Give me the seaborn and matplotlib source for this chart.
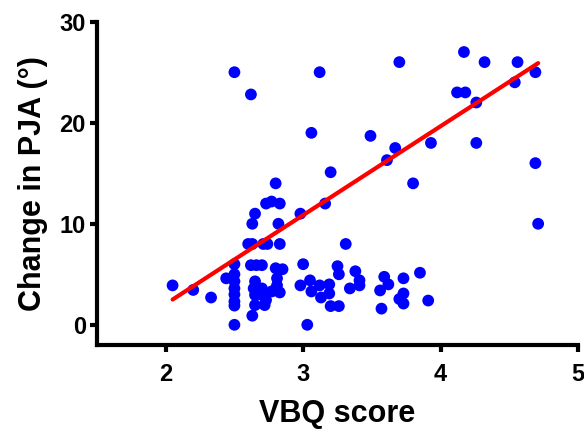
import matplotlib
matplotlib.use("Agg")
import matplotlib.pyplot as plt
import seaborn as sns
import pandas as pd

# values
vbq_score = [
    # upper points
    2.50, 2.62, 3.12, 3.70, 4.17, 4.32, 4.56, 4.69, 4.54, 4.12, 4.18, 4.26,
    4.26, 3.93, 4.69, 4.71, 3.06, 3.49, 3.67, 3.61, 3.20, 3.80, 3.16, 2.98,
    # middle points
    2.80, 2.73, 2.77, 2.83, 2.65, 2.63, 2.82,
    2.60, 2.63, 2.71, 2.74, 2.83, 3.31,
    # low points
    2.05, 2.20, 2.33, 2.44,
    2.50, 2.50, 2.50, 2.50, 2.50, 2.50, 2.50, 2.50,
    2.62, 2.66, 2.70, 2.63,
    2.65, 2.64, 2.70, 2.65, 2.70, 2.73, 2.65, 2.72,
    2.80, 2.85, 2.81, 2.81, 2.79, 2.83, 2.77,
    3.00, 3.25, 3.26, 3.38, 3.41, 3.41, 3.34,
    2.98, 3.05, 3.06, 3.12, 3.13, 3.19, 3.19, 3.20, 3.26, 3.03,
    3.59, 3.62, 3.56, 3.57, 3.73, 3.85, 3.73, 3.70, 3.73, 3.91,
]
pja_change = [
    25.0, 22.8, 25.0, 26.0, 27.0, 26.0, 26.0, 25.0, 24.0, 23.0, 23.0, 22.0,
    18.0, 18.0, 16.0, 10.0, 19.0, 18.7, 17.5, 16.3, 15.1, 14.0, 12.0, 11.0,
    14.0, 12.0, 12.2, 12.0, 11.0, 10.0, 10.0,
    8.0, 8.0, 8.0, 8.0, 8.0, 8.0,
    3.9, 3.45, 2.7, 4.6,
    6.0, 5.0, 4.3, 3.6, 3.0, 2.3, 1.9, 0.0,
    5.9, 5.9, 5.9, 0.9,
    4.3, 3.6, 3.6, 2.95, 2.95, 2.45, 1.95, 1.95,
    5.6, 5.5, 4.6, 3.9, 3.4, 3.2, 3.3,
    6.0, 5.8, 5.0, 5.3, 4.4, 3.9, 3.6,
    3.9, 4.4, 3.3, 3.9, 2.7, 4.0, 3.1, 1.85, 1.85, 0.0,
    4.75, 4.0, 3.4, 1.6, 4.6, 5.15, 3.1, 2.55, 2.1, 2.4,
]

# fitted line as drawn in the reference
fit_x = [2.05, 4.71]
fit_y = [2.5, 25.9]

x_ticks = [2, 3, 4, 5]
y_ticks = [0, 10, 20, 30]

df = pd.DataFrame({"vbq": vbq_score, "pja": pja_change})
df_fit = pd.DataFrame({"vbq": fit_x, "pja": fit_y})

sns.set_style("ticks")
plt.rcParams["font.family"] = ["Liberation Sans", "Noto Sans CJK SC", "DejaVu Sans"]
plt.rcParams["font.weight"] = "bold"
plt.rcParams["text.color"] = "black"
plt.rcParams["axes.labelcolor"] = "black"
plt.rcParams["xtick.color"] = "black"
plt.rcParams["ytick.color"] = "black"

fig = plt.figure(figsize=(5.84, 4.32), dpi=100)
ax = fig.add_axes([97 / 584, 87 / 432, 481 / 584, 323.3 / 432])

sns.scatterplot(data=df, x="vbq", y="pja", ax=ax, color="#0000FF",
                s=72, edgecolor="none", zorder=2)
sns.lineplot(data=df_fit, x="vbq", y="pja", ax=ax, color="#FF0000",
             linewidth=3.0, zorder=3)

ax.set_xlim(1.5, 5)
ax.set_ylim(-2, 30)
ax.set_xticks(x_ticks)
ax.set_yticks(y_ticks)
ax.set_xticklabels([str(t) for t in x_ticks], fontsize=17, fontweight="bold")
ax.set_yticklabels([str(t) for t in y_ticks], fontsize=17, fontweight="bold")

ax.set_xlabel("VBQ score", fontsize=22, fontweight="bold", labelpad=9)
ax.set_ylabel("Change in PJA (°)", fontsize=22, fontweight="bold", labelpad=8)

for side in ["top", "right"]:
    ax.spines[side].set_visible(False)
for side in ["left", "bottom"]:
    ax.spines[side].set_linewidth(3.0)
    ax.spines[side].set_color("black")

ax.tick_params(axis="both", width=3.0, length=5, color="black")
ax.tick_params(axis="x", pad=8)
ax.tick_params(axis="y", pad=3)

fig.savefig("out.png", dpi=100)
plt.close(fig)
